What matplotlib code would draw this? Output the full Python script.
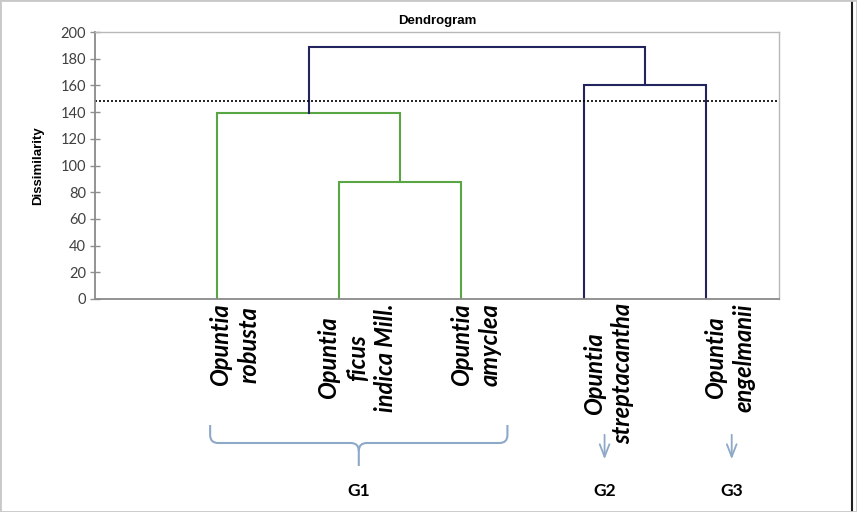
import matplotlib
matplotlib.use("Agg")
import matplotlib.pyplot as plt
from matplotlib.path import Path
from matplotlib.patches import PathPatch, Rectangle

# ---- data ----
leaf_labels = ["Opuntia\nrobusta", "Opuntia\nficus\nindica Mill.", "Opuntia\namyclea",
               "Opuntia\nstreptacantha", "Opuntia\nengelmanii"]
# merges: (left node, right node, height); nodes 0-4 are leaves, 5+ are clusters
merges = [(1, 2, 88), (0, 5, 139), (3, 4, 160), (6, 7, 189)]
green_nodes = {0, 1, 2, 5, 6}   # nodes belonging to group G1
cut_height = 148
yticks = [0, 20, 40, 60, 80, 100, 120, 140, 160, 180, 200]
groups = ["G1", "G2", "G3"]

# layout: horizontal pixel shift of each leaf label
label_shift = [18, 18, 14, 25, 24]

GREEN = "#5aa544"
NAVY = "#23235e"
BRACE = "#8ea9c8"

fig = plt.figure(figsize=(8.57, 5.12), dpi=100)
ax = fig.add_axes([95/857, 1-299/512, 684/857, 267/512])

# node positions
xpos = {i: i + 1 for i in range(len(leaf_labels))}
ypos = {i: 0 for i in range(len(leaf_labels))}
for k, (a, b, h) in enumerate(merges):
    n = len(leaf_labels) + k
    col = GREEN if n in green_nodes else NAVY
    ax.plot([xpos[a], xpos[a], xpos[b], xpos[b]], [ypos[a], h, h, ypos[b]],
            color=col, lw=1.5, solid_joinstyle="miter")
    xpos[n] = (xpos[a] + xpos[b]) / 2
    ypos[n] = h

ax.axhline(cut_height, color="black", ls=(0, (1.2, 1.2)), lw=1.2)

ax.set_xlim(0, 5.6)
ax.set_ylim(0, 200)
ax.set_yticks(yticks)
ax.set_xticks([])
ax.tick_params(axis="y", direction="inout", length=7, width=1, color="#909090",
               labelsize=10.5, labelcolor="#404040", pad=3)
for lab in ax.get_yticklabels():
    lab.set_family("Lato")
for s in ["left", "bottom"]:
    ax.spines[s].set_color("#8a8a8a")
    ax.spines[s].set_linewidth(1.3)
for s in ["top", "right"]:
    ax.spines[s].set_color("#b8b8b8")
    ax.spines[s].set_linewidth(1.0)

ax.set_title("Dendrogram", fontsize=9.5, fontweight="bold", family="Liberation Sans", pad=6)
ax.set_ylabel("Dissimilarity", fontsize=9.5, fontweight="bold", family="Liberation Sans", labelpad=12)

# leaf labels
for i, lab in enumerate(leaf_labels):
    ax.annotate(lab, xy=(xpos[i], 0), xycoords=("data", "axes fraction"),
                xytext=(label_shift[i], -4), textcoords="offset pixels",
                rotation=90, ha="center", va="top", multialignment="center",
                fontsize=17, fontstyle="italic", fontweight="bold", family="Lato",
                linespacing=1.3, annotation_clip=False)

# overlay for decorations (pixel coordinates)
ov = fig.add_axes([0, 0, 1, 1])
ov.set_xlim(0, 857)
ov.set_ylim(512, 0)
ov.axis("off")

def px(xd):
    disp = ax.transData.transform((xd, 0))
    return ov.transData.inverted().transform(disp)[0]

x_l = px(xpos[0]) - 7
x_r = px(xpos[2]) + 46
xm = (x_l + x_r) / 2
yt, yb, ytip = 425, 443, 466
r = 8
verts = [(x_l, yt), (x_l, yb - r), (x_l, yb), (x_l + r, yb), (xm - r, yb), (xm, yb), (xm, yb + r),
         (xm, ytip)]
codes = [Path.MOVETO, Path.LINETO, Path.CURVE3, Path.CURVE3, Path.LINETO, Path.CURVE3, Path.CURVE3,
         Path.LINETO]
ov.add_patch(PathPatch(Path(verts, codes), fill=False, ec=BRACE, lw=1.5))
verts2 = [(x_r, yt), (x_r, yb - r), (x_r, yb), (x_r - r, yb), (xm + r, yb), (xm, yb), (xm, yb + r)]
codes2 = [Path.MOVETO, Path.LINETO, Path.CURVE3, Path.CURVE3, Path.LINETO, Path.CURVE3, Path.CURVE3]
ov.add_patch(PathPatch(Path(verts2, codes2), fill=False, ec=BRACE, lw=1.5))

gx = [xm, px(xpos[3]) + 21, px(xpos[4]) + 26]
for x in gx[1:]:
    ov.annotate("", xy=(x, 462), xytext=(x, 432),
                arrowprops=dict(arrowstyle="->,head_length=0.9,head_width=0.35", color=BRACE, lw=1.3))
for g, x in zip(groups, gx):
    ov.text(x, 491, g, ha="center", va="center", fontsize=12.5, fontweight="bold", family="Lato")

# figure border
fig.patches.append(Rectangle((0, 0), 1, 1, transform=fig.transFigure, fill=False,
                             ec="#c8c8c8", lw=2))
ov.plot([852, 852], [0, 512], color="#202020", lw=1.5)

fig.savefig("out.png", dpi=100)
